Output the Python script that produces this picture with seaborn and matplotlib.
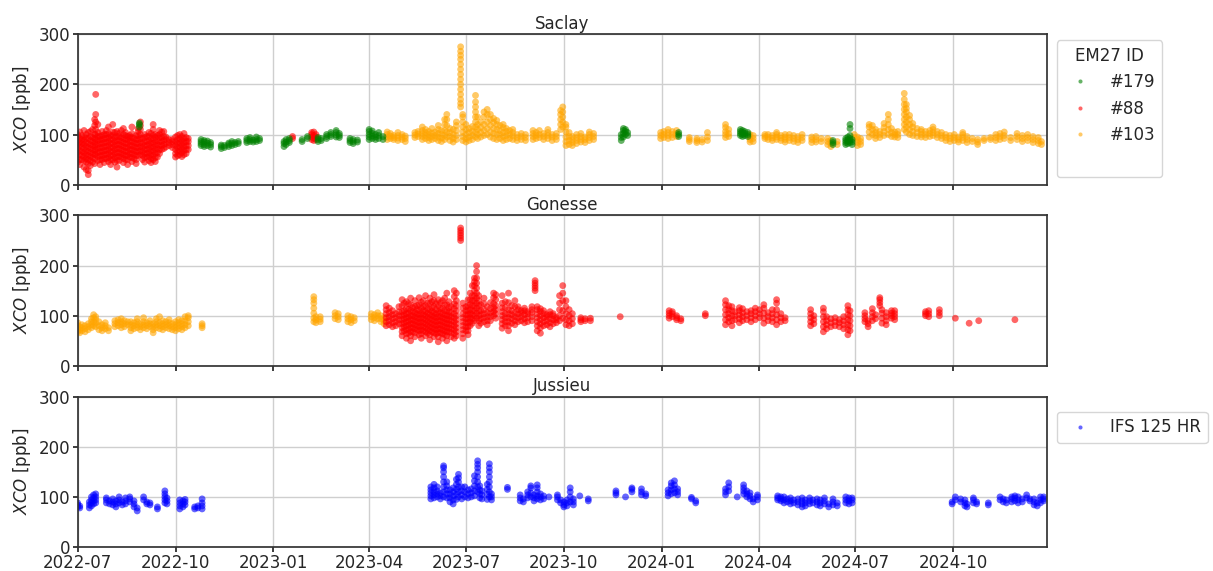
import pandas as pd
import seaborn as sns
import matplotlib.pyplot as plt
import matplotlib.dates as mdates
from matplotlib.lines import Line2D


saclay_88 = [
    ('2022-07-01', [45, 55, 65, 72, 80, 88, 95, 100]), ('2022-07-03', [40, 50, 60, 68, 78, 85, 92, 105]),
    ('2022-07-05', [50, 58, 66, 75, 82, 90, 98]), ('2022-07-07', [35, 48, 56, 64, 72, 80, 88, 95, 108]),
    ('2022-07-09', [30, 45, 52, 60, 68, 76, 84, 92, 100]), ('2022-07-11', [20, 28, 42, 50, 58, 66, 74, 82, 92, 104]),
    ('2022-07-13', [38, 48, 56, 64, 72, 80, 88, 96, 106]), ('2022-07-15', [45, 54, 62, 70, 78, 86, 94, 110]),
    ('2022-07-17', [42, 52, 60, 68, 76, 84, 92, 100, 118, 130]), ('2022-07-18', [60, 70, 80, 90, 100, 110, 125, 140, 180]),
    ('2022-07-20', [48, 56, 64, 72, 80, 88, 96, 104, 120]), ('2022-07-22', [40, 50, 58, 66, 74, 82, 90, 96]),
    ('2022-07-24', [50, 58, 66, 74, 82, 90, 98, 106]), ('2022-07-26', [44, 52, 60, 68, 76, 84, 92, 100]),
    ('2022-07-28', [52, 60, 68, 76, 84, 92, 100, 108]), ('2022-07-30', [46, 54, 62, 70, 78, 86, 94, 102, 115]),
    ('2022-08-01', [40, 50, 58, 66, 74, 82, 90, 98]), ('2022-08-03', [50, 58, 66, 74, 82, 90, 98, 105, 120]),
    ('2022-08-05', [45, 54, 62, 70, 78, 86, 94, 104]), ('2022-08-07', [35, 48, 56, 64, 72, 80, 88, 96, 106]),
    ('2022-08-09', [48, 56, 64, 72, 80, 88, 96, 102]), ('2022-08-11', [55, 62, 70, 78, 86, 94, 108]),
    ('2022-08-13', [44, 52, 60, 68, 76, 84, 92, 100, 112]), ('2022-08-15', [50, 58, 66, 74, 82, 90, 98, 104]),
    ('2022-08-17', [40, 50, 58, 66, 74, 82, 90, 96]), ('2022-08-19', [55, 62, 70, 78, 86, 94, 98]),
    ('2022-08-21', [46, 54, 62, 70, 78, 86, 94, 102, 115]), ('2022-08-23', [52, 60, 68, 76, 84, 92]),
    ('2022-08-25', [42, 50, 58, 66, 74, 82, 90, 98]), ('2022-08-27', [58, 66, 74, 82, 90, 98, 106, 112]),
    ('2022-08-29', [60, 68, 76, 84, 92, 100, 110, 118, 125]), ('2022-08-31', [50, 58, 66, 74, 82, 92]),
    ('2022-09-02', [45, 54, 62, 70, 78, 86, 94, 100]), ('2022-09-04', [55, 62, 70, 78, 86, 96]),
    ('2022-09-06', [48, 56, 64, 72, 80, 88, 96, 104]), ('2022-09-08', [44, 52, 60, 68, 76, 84, 92, 102]),
    ('2022-09-10', [50, 58, 66, 74, 82, 90, 98, 110, 120]), ('2022-09-12', [46, 54, 62, 70, 78, 86, 94, 100]),
    ('2022-09-14', [55, 64, 72, 80, 88, 98]), ('2022-09-16', [62, 70, 78, 86, 94, 100, 108]),
    ('2022-09-18', [70, 78, 86, 94, 105]), ('2022-09-20', [72, 80, 88, 96, 106]),
    ('2022-09-22', [75, 82, 90, 95]), ('2022-09-25', [78, 84, 90]), ('2022-09-28', [74, 80, 86, 90]),
    ('2022-10-01', [55, 62, 70, 78, 86, 95]), ('2022-10-03', [58, 66, 74, 82, 90, 98]),
    ('2022-10-05', [60, 68, 76, 84, 92, 100]), ('2022-10-07', [56, 64, 72, 80, 88, 96]),
    ('2022-10-09', [60, 68, 76, 84, 92, 102]), ('2022-10-11', [62, 70, 78, 86, 94]),
    ('2022-10-13', [70, 78, 86, 92]),
    ('2023-01-19', [92, 96]), ('2023-02-06', [90, 95, 100, 104]),
    ('2023-02-08', [88, 93, 98, 105]), ('2023-02-10', [90, 95, 100]),
]

saclay_179 = [
    ('2022-08-28', [115, 120, 123]),
    ('2022-10-25', [78, 82, 86, 90]), ('2022-10-28', [76, 80, 85, 88]), ('2022-10-31', [78, 83, 87]),
    ('2022-11-03', [75, 80, 84]), ('2022-11-13', [72, 76, 79]), ('2022-11-16', [74, 78]),
    ('2022-11-20', [76, 80, 83]), ('2022-11-23', [78, 82, 86]), ('2022-11-26', [80, 84]),
    ('2022-11-29', [82, 86]), ('2022-12-07', [84, 88, 92]), ('2022-12-10', [86, 90, 94]),
    ('2022-12-13', [85, 89]), ('2022-12-16', [86, 90, 95]), ('2022-12-19', [88, 92]),
    ('2023-01-11', [76, 82, 86]), ('2023-01-13', [80, 85, 90]), ('2023-01-16', [84, 88, 92]),
    ('2023-01-28', [86, 90]), ('2023-02-02', [92, 96]), ('2023-02-12', [86, 90, 94]),
    ('2023-02-15', [88, 92]), ('2023-02-20', [92, 96, 100]), ('2023-02-24', [96, 100, 104]),
    ('2023-03-01', [95, 99, 104, 108]), ('2023-03-04', [94, 98, 102]),
    ('2023-03-14', [84, 88, 92]), ('2023-03-17', [82, 86, 90]), ('2023-03-21', [85, 89]),
    ('2023-04-01', [90, 95, 100, 106, 110]), ('2023-04-04', [92, 97, 102, 107]),
    ('2023-04-07', [90, 95, 100]), ('2023-04-10', [92, 98, 104]), ('2023-04-14', [90, 96]),
    ('2023-11-24', [88, 94, 100]), ('2023-11-26', [95, 102, 108, 112]),
    ('2023-11-28', [100, 106, 110]), ('2023-11-30', [98, 104]),
    ('2024-01-17', [96, 100, 104]),
    ('2024-03-15', [98, 102, 106, 110]), ('2024-03-17', [96, 100, 104, 108]),
    ('2024-03-19', [98, 102, 106]), ('2024-03-22', [96, 100, 104]),
    ('2024-06-10', [80, 84, 88]),
    ('2024-06-22', [80, 84, 88, 92]), ('2024-06-24', [82, 86, 90, 95]),
    ('2024-06-26', [84, 88, 92, 98, 112, 120]), ('2024-06-28', [80, 85, 90]),
]

saclay_103 = [
    ('2023-04-18', [90, 95, 100, 105]), ('2023-04-21', [92, 97, 102]), ('2023-04-24', [90, 94, 98]),
    ('2023-04-28', [88, 93, 98, 104]), ('2023-05-02', [90, 95, 100]), ('2023-05-05', [86, 92, 97]),
    ('2023-05-14', [94, 99, 104]), ('2023-05-17', [96, 101, 106]),
    ('2023-05-21', [90, 96, 102, 108, 115]), ('2023-05-24', [92, 98, 104, 110]),
    ('2023-05-27', [88, 94, 100, 106]), ('2023-05-30', [90, 96, 103, 112]),
    ('2023-06-02', [92, 98, 105]), ('2023-06-05', [88, 95, 102, 110, 118]),
    ('2023-06-08', [86, 93, 100, 108]), ('2023-06-11', [90, 98, 108, 120, 130]),
    ('2023-06-13', [95, 105, 118, 130, 140]), ('2023-06-16', [88, 96, 104, 112]),
    ('2023-06-19', [85, 92, 100, 110]), ('2023-06-22', [90, 98, 108, 118, 125]),
    ('2023-06-26', [155, 162, 170, 180, 190, 200, 210, 220, 230, 240, 250, 258, 266, 275]),
    ('2023-06-28', [88, 96, 105, 115, 125, 135, 140]), ('2023-07-01', [85, 92, 100, 110, 120]),
    ('2023-07-04', [88, 95, 104, 112]), ('2023-07-07', [90, 98, 106, 116]),
    ('2023-07-10', [95, 105, 115, 125, 135, 145, 155, 165, 178]), ('2023-07-12', [92, 100, 110, 120, 135]),
    ('2023-07-15', [95, 104, 114, 125]), ('2023-07-18', [98, 108, 120, 135, 145]),
    ('2023-07-21', [100, 112, 125, 140, 150]), ('2023-07-24', [95, 105, 118, 130, 140]),
    ('2023-07-27', [92, 102, 112, 124, 132]), ('2023-07-30', [90, 100, 110, 120, 128]),
    ('2023-08-02', [92, 100, 108, 118]), ('2023-08-05', [88, 96, 104, 114, 120]),
    ('2023-08-08', [90, 98, 106, 112]), ('2023-08-11', [92, 100, 108]),
    ('2023-08-14', [90, 97, 104, 110]), ('2023-08-18', [88, 94, 100]),
    ('2023-08-22', [90, 96, 102]), ('2023-08-26', [88, 94, 100]),
    ('2023-09-02', [90, 96, 102, 108]), ('2023-09-05', [92, 98, 104]),
    ('2023-09-08', [94, 100, 108]), ('2023-09-12', [90, 96, 102]),
    ('2023-09-16', [92, 98, 104, 110]), ('2023-09-20', [88, 95, 100]),
    ('2023-09-24', [90, 96, 102]), ('2023-09-28', [110, 120, 130, 140, 148]),
    ('2023-09-30', [115, 125, 135, 145, 155]), ('2023-10-03', [78, 86, 95, 105, 115, 120]),
    ('2023-10-06', [80, 88, 96, 104]), ('2023-10-09', [78, 84, 90, 96]),
    ('2023-10-13', [82, 88, 94, 100]), ('2023-10-17', [85, 90, 96, 102]),
    ('2023-10-21', [84, 90, 95]), ('2023-10-25', [88, 94, 100, 105]), ('2023-10-29', [90, 96, 102]),
    ('2023-12-31', [92, 98, 104]), ('2024-01-03', [94, 100, 106]),
    ('2024-01-07', [92, 98, 104, 110]), ('2024-01-11', [94, 100, 106]),
    ('2024-01-15', [96, 102, 108]), ('2024-01-27', [86, 90, 94]),
    ('2024-02-03', [84, 88, 92]), ('2024-02-08', [85, 90]), ('2024-02-13', [88, 95, 104]),
    ('2024-03-01', [94, 100, 106, 114, 120]), ('2024-03-04', [96, 102, 110]),
    ('2024-03-24', [85, 90, 95, 100]), ('2024-03-27', [86, 92, 98]),
    ('2024-04-07', [92, 96, 100]), ('2024-04-10', [90, 95, 100]), ('2024-04-14', [88, 93, 98]),
    ('2024-04-18', [90, 95, 100, 104]), ('2024-04-22', [88, 93, 98]),
    ('2024-04-26', [85, 90, 95, 100]), ('2024-04-30', [88, 94, 100]),
    ('2024-05-04', [86, 92, 98]), ('2024-05-08', [84, 90, 96]), ('2024-05-12', [88, 94, 100]),
    ('2024-05-21', [84, 90, 95]), ('2024-05-25', [85, 90, 96]), ('2024-05-30', [86, 92]),
    ('2024-06-05', [80, 86, 92]), ('2024-06-08', [76, 82, 88]), ('2024-06-14', [80, 86]),
    ('2024-06-30', [94, 100]), ('2024-07-03', [78, 84, 90, 95]), ('2024-07-06', [80, 86, 92]),
    ('2024-07-14', [95, 105, 115, 120]), ('2024-07-17', [100, 110, 118]),
    ('2024-07-20', [92, 98, 104, 110]), ('2024-07-24', [94, 100, 106]),
    ('2024-07-28', [98, 106, 114, 122]), ('2024-08-01', [100, 110, 120, 130, 140]),
    ('2024-08-04', [96, 104, 112]), ('2024-08-07', [95, 100, 105]), ('2024-08-10', [94, 100, 106]),
    ('2024-08-16', [110, 120, 130, 140, 150, 160, 170, 182]), ('2024-08-18', [105, 115, 125, 135, 145, 152, 160]),
    ('2024-08-21', [100, 110, 120, 130, 138]), ('2024-08-24', [98, 106, 115, 122]),
    ('2024-08-28', [96, 104, 112]), ('2024-09-01', [95, 100, 106, 110]),
    ('2024-09-05', [94, 100, 106]), ('2024-09-09', [96, 102, 108]),
    ('2024-09-12', [98, 104, 110, 115]), ('2024-09-16', [94, 100, 106]),
    ('2024-09-20', [92, 98, 104]), ('2024-09-24', [88, 94, 100]), ('2024-09-28', [86, 92, 98]),
    ('2024-10-02', [88, 94, 100]), ('2024-10-06', [85, 90, 95]), ('2024-10-10', [88, 94, 100, 104]),
    ('2024-10-14', [84, 90, 96]), ('2024-10-19', [86, 92]), ('2024-10-24', [80, 85, 90]),
    ('2024-10-30', [88, 92]), ('2024-11-05', [90, 94]), ('2024-11-10', [88, 94, 100]),
    ('2024-11-14', [90, 96, 102]), ('2024-11-18', [92, 98, 105]), ('2024-11-24', [88, 94]),
    ('2024-11-30', [90, 96, 102]), ('2024-12-05', [86, 92, 98]), ('2024-12-10', [88, 94, 100]),
    ('2024-12-15', [84, 90, 96]), ('2024-12-20', [82, 88, 94]), ('2024-12-23', [80, 86]),
]

gonesse_103 = [
    ('2022-07-01', [68, 74, 80, 86]), ('2022-07-03', [66, 72, 78]), ('2022-07-05', [70, 76, 82]),
    ('2022-07-08', [68, 74, 80]), ('2022-07-11', [72, 78, 84]), ('2022-07-14', [76, 82, 88, 94]),
    ('2022-07-16', [80, 88, 96, 102]), ('2022-07-18', [78, 85, 92, 98]), ('2022-07-21', [72, 80, 88]),
    ('2022-07-24', [70, 76, 82]), ('2022-07-27', [74, 80, 86]), ('2022-07-30', [70, 76]),
    ('2022-08-05', [78, 84, 90]), ('2022-08-08', [80, 86, 92]), ('2022-08-11', [76, 82, 88, 94]),
    ('2022-08-14', [78, 84, 90]), ('2022-08-17', [82, 88]), ('2022-08-20', [70, 76, 82, 88]),
    ('2022-08-23', [74, 80, 86]), ('2022-08-26', [76, 82, 88, 94]), ('2022-08-29', [72, 78, 84]),
    ('2022-09-01', [76, 82, 88, 96]), ('2022-09-04', [74, 80, 86]), ('2022-09-07', [78, 84, 90]),
    ('2022-09-10', [66, 72, 78, 84]), ('2022-09-13', [76, 82, 88, 94]),
    ('2022-09-16', [74, 80, 86, 98]), ('2022-09-19', [72, 78, 84, 90]), ('2022-09-22', [76, 82, 88]),
    ('2022-09-25', [74, 80, 86, 92]), ('2022-09-28', [72, 78, 84]), ('2022-10-01', [70, 76, 82, 88]),
    ('2022-10-04', [74, 80, 86, 92]), ('2022-10-07', [72, 78, 84, 90]),
    ('2022-10-10', [76, 82, 90, 98]), ('2022-10-13', [80, 88, 96, 100]), ('2022-10-26', [76, 80, 84]),
    ('2023-02-08', [88, 95, 105, 115, 125, 132, 138]), ('2023-02-10', [86, 92, 98]),
    ('2023-02-14', [88, 93, 98]), ('2023-02-28', [94, 100, 106]), ('2023-03-03', [92, 98, 104]),
    ('2023-03-12', [88, 94, 100]), ('2023-03-15', [86, 92, 98]), ('2023-03-18', [90, 96]),
    ('2023-04-03', [92, 98, 104]), ('2023-04-06', [90, 96, 102]), ('2023-04-09', [94, 100, 106]),
    ('2023-04-12', [88, 94, 100]), ('2023-04-15', [84, 90, 96]),
]

gonesse_88 = [
    ('2023-04-17', [80, 88, 96, 104, 112, 120]), ('2023-04-20', [82, 90, 98, 106, 115]),
    ('2023-04-23', [78, 86, 94, 102, 110]), ('2023-04-26', [80, 88, 96, 104]),
    ('2023-04-29', [84, 92, 100, 108, 118]), ('2023-05-02', [60, 68, 76, 84, 92, 100, 108, 120, 132]),
    ('2023-05-04', [70, 78, 86, 94, 102, 110, 125]), ('2023-05-06', [55, 64, 72, 80, 88, 96, 104, 114, 128]),
    ('2023-05-08', [65, 73, 81, 89, 97, 105, 113, 124]), ('2023-05-10', [50, 60, 68, 76, 84, 92, 100, 110, 122, 135]),
    ('2023-05-12', [68, 76, 84, 92, 100, 108, 116]), ('2023-05-14', [58, 66, 74, 82, 90, 98, 106, 118, 130]),
    ('2023-05-16', [72, 80, 88, 96, 104, 112, 120]), ('2023-05-18', [62, 70, 78, 86, 94, 102, 110, 122, 136]),
    ('2023-05-20', [55, 64, 72, 80, 88, 96, 104, 115, 127]), ('2023-05-22', [70, 78, 86, 94, 102, 110, 118, 130]),
    ('2023-05-24', [60, 68, 76, 84, 92, 100, 108, 120, 140]), ('2023-05-26', [65, 73, 81, 89, 97, 105, 113, 125]),
    ('2023-05-28', [52, 62, 70, 78, 86, 94, 102, 112, 124, 135]), ('2023-05-30', [68, 76, 84, 92, 100, 108, 116, 128]),
    ('2023-06-01', [58, 66, 74, 82, 90, 98, 106, 118, 130, 142]), ('2023-06-03', [64, 72, 80, 88, 96, 104, 112, 124]),
    ('2023-06-05', [48, 58, 66, 74, 82, 90, 98, 108, 120, 132]), ('2023-06-07', [66, 74, 82, 90, 98, 106, 114, 126]),
    ('2023-06-09', [55, 64, 72, 80, 88, 96, 104, 115, 130]), ('2023-06-11', [62, 70, 78, 86, 94, 102, 110, 122, 135]),
    ('2023-06-13', [50, 60, 68, 76, 84, 92, 100, 110, 122, 145]), ('2023-06-15', [68, 76, 84, 92, 100, 108, 116, 128]),
    ('2023-06-17', [58, 66, 74, 82, 90, 98, 106, 118]), ('2023-06-20', [55, 64, 72, 80, 88, 96, 104, 114, 124, 138, 150]),
    ('2023-06-22', [60, 68, 76, 84, 92, 100, 110, 120, 130, 145]), ('2023-06-26', [250, 255, 260, 265, 270, 275]),
    ('2023-06-28', [55, 64, 72, 80, 88, 96, 104, 115, 125]), ('2023-07-01', [70, 78, 86, 94, 102, 110, 118]),
    ('2023-07-03', [62, 70, 78, 86, 94, 102, 110, 120, 132]), ('2023-07-05', [80, 88, 96, 104, 112, 122, 132, 145]),
    ('2023-07-07', [85, 94, 102, 110, 120, 130, 140, 160]), ('2023-07-09', [90, 100, 110, 120, 130, 140, 150, 160, 168, 175]),
    ('2023-07-11', [95, 105, 115, 125, 135, 145, 155, 165, 175, 188, 200]), ('2023-07-13', [80, 90, 100, 110, 120, 130, 140]),
    ('2023-07-15', [85, 94, 102, 110, 122]), ('2023-07-18', [88, 96, 104, 112, 124, 135]),
    ('2023-07-21', [82, 90, 98, 106, 118]), ('2023-07-24', [90, 98, 106, 114, 126]),
    ('2023-07-27', [100, 108, 116, 124, 136, 145]), ('2023-07-29', [95, 104, 112, 120, 132, 142]),
    ('2023-08-04', [75, 84, 92, 100, 108, 116, 125, 140]), ('2023-08-07', [80, 88, 96, 104, 116, 128]),
    ('2023-08-10', [70, 80, 88, 96, 104, 112, 126, 145]), ('2023-08-13', [85, 94, 102, 110, 120]),
    ('2023-08-16', [82, 90, 98, 106, 118, 130]), ('2023-08-19', [88, 96, 104, 112, 118]),
    ('2023-08-22', [90, 98, 106, 110]), ('2023-08-25', [86, 94, 102, 110, 115]), ('2023-08-28', [88, 96, 104, 108]),
    ('2023-09-01', [90, 98, 106, 112, 118]), ('2023-09-04', [150, 155, 160, 165, 170]),
    ('2023-09-06', [70, 80, 88, 96, 104, 112, 118]), ('2023-09-09', [65, 76, 84, 92, 100, 108, 114]),
    ('2023-09-12', [80, 88, 96, 104, 110]), ('2023-09-15', [82, 90, 98, 102]),
    ('2023-09-18', [78, 86, 94, 102, 108]), ('2023-09-21', [84, 92, 100, 104]), ('2023-09-24', [86, 92, 96]),
    ('2023-09-27', [90, 100, 112, 125, 140]), ('2023-09-30', [95, 110, 130, 145, 160]),
    ('2023-10-03', [82, 92, 104, 118, 130]), ('2023-10-06', [80, 90, 100, 112]),
    ('2023-10-09', [84, 94, 104]), ('2023-10-17', [88, 92, 96]), ('2023-10-21', [90, 94]),
    ('2023-10-26', [90, 95]), ('2023-11-23', [98]),
    ('2024-01-08', [95, 100, 105, 110]), ('2024-01-11', [98, 104, 108]),
    ('2024-01-15', [92, 96, 100]), ('2024-01-19', [90, 94]), ('2024-02-11', [100, 104]),
    ('2024-03-01', [82, 92, 102, 112, 122, 130]), ('2024-03-04', [88, 96, 104, 112, 120]),
    ('2024-03-07', [80, 90, 100, 110, 118]), ('2024-03-10', [92, 100, 108]),
    ('2024-03-14', [86, 94, 102, 110, 116]), ('2024-03-17', [90, 98, 106, 114]),
    ('2024-03-21', [92, 100, 108]), ('2024-03-25', [88, 96, 104, 110]),
    ('2024-03-29', [92, 100, 108, 115]), ('2024-04-02', [96, 104, 112]),
    ('2024-04-06', [85, 95, 105, 115, 122]), ('2024-04-10', [90, 98, 106]),
    ('2024-04-14', [88, 96, 104, 112]), ('2024-04-18', [82, 92, 102, 112, 125, 132]),
    ('2024-04-22', [88, 96, 104]), ('2024-04-26', [90, 96]),
    ('2024-05-20', [80, 88, 96, 104, 112]), ('2024-05-23', [84, 92, 100]),
    ('2024-06-01', [68, 78, 88, 98, 108, 115]), ('2024-06-04', [74, 82, 90, 98]),
    ('2024-06-08', [78, 86, 94]), ('2024-06-12', [80, 88, 96]), ('2024-06-16', [78, 86, 92]),
    ('2024-06-20', [74, 82, 90, 98]), ('2024-06-24', [62, 72, 82, 92, 102, 112, 120]),
    ('2024-06-26', [70, 80, 90, 100, 110]), ('2024-07-10', [88, 94, 100, 106]),
    ('2024-07-13', [78, 84, 90]), ('2024-07-17', [90, 98, 106, 114]), ('2024-07-20', [94, 102]),
    ('2024-07-24', [120, 126, 132, 136]), ('2024-07-26', [85, 95, 105, 112]),
    ('2024-07-30', [82, 90, 98, 106]), ('2024-08-04', [95, 100, 105, 110]),
    ('2024-08-07', [92, 98, 104, 110]), ('2024-09-05', [100, 104, 108]),
    ('2024-09-08', [98, 104, 110]), ('2024-09-18', [100, 106, 112]),
    ('2024-10-03', [95]), ('2024-10-16', [85]), ('2024-10-25', [90]), ('2024-11-28', [92]),
]

jussieu_ifs = [
    ('2022-07-01', [80, 84, 88]), ('2022-07-03', [78, 82]), ('2022-07-12', [78, 84, 90]),
    ('2022-07-14', [82, 88, 94, 100]), ('2022-07-16', [86, 92, 98, 104]),
    ('2022-07-18', [88, 94, 100, 106]), ('2022-07-28', [88, 94, 98]), ('2022-07-31', [86, 92]),
    ('2022-08-03', [84, 90, 96]), ('2022-08-06', [80, 86, 92]), ('2022-08-09', [88, 94, 100]),
    ('2022-08-12', [84, 90]), ('2022-08-15', [86, 92, 98]), ('2022-08-19', [90, 96, 100]),
    ('2022-08-23', [80, 86, 92]), ('2022-08-26', [72, 78]), ('2022-09-01', [94, 100]),
    ('2022-09-04', [86, 90]), ('2022-09-07', [84, 88]), ('2022-09-14', [76, 80]),
    ('2022-09-21', [88, 94, 100, 106, 112]), ('2022-09-23', [86, 92, 98]),
    ('2022-10-05', [76, 82, 88, 94]), ('2022-10-08', [80, 86, 92]), ('2022-10-10', [84, 90, 95]),
    ('2022-10-19', [76, 80]), ('2022-10-22', [78, 82]), ('2022-10-26', [76, 82, 88, 96]),
    ('2023-05-29', [96, 102, 108, 114, 120]), ('2023-06-01', [98, 104, 110, 118, 125]),
    ('2023-06-04', [100, 106, 112, 120]), ('2023-06-07', [96, 102, 108]),
    ('2023-06-10', [100, 110, 120, 130, 140, 150, 158, 162]), ('2023-06-13', [98, 106, 114, 122, 130]),
    ('2023-06-16', [90, 98, 106, 114]), ('2023-06-19', [86, 94, 102, 110, 118]),
    ('2023-06-22', [95, 105, 115, 125, 135]), ('2023-06-24', [100, 110, 120, 130, 138, 145]),
    ('2023-06-27', [96, 104, 112, 120]), ('2023-06-30', [100, 110, 120]),
    ('2023-07-03', [98, 106, 114]), ('2023-07-06', [100, 108, 116]),
    ('2023-07-09', [102, 112, 122, 132, 142]), ('2023-07-12', [110, 120, 130, 140, 150, 158, 165, 172]),
    ('2023-07-14', [98, 106, 114, 122]), ('2023-07-16', [96, 104, 112]),
    ('2023-07-21', [95, 105, 115, 125]), ('2023-07-23', [100, 110, 120, 130, 140, 150, 158, 166]),
    ('2023-07-25', [94, 100, 106]), ('2023-08-09', [115, 119]), ('2023-08-21', [92, 98, 104]),
    ('2023-08-24', [90, 96]), ('2023-08-28', [98, 104, 110]), ('2023-08-31', [100, 108, 118, 122]),
    ('2023-09-03', [92, 98, 104]), ('2023-09-06', [96, 102, 110, 118, 124]),
    ('2023-09-09', [94, 100, 106]), ('2023-09-12', [96, 102]), ('2023-09-17', [100]),
    ('2023-09-25', [94, 100, 104]), ('2023-09-28', [88, 94]), ('2023-10-01', [80, 84, 90]),
    ('2023-10-04', [82, 88, 94]), ('2023-10-07', [90, 100, 110, 118]), ('2023-10-10', [84, 90, 96]),
    ('2023-10-16', [102]), ('2023-10-24', [92, 96]), ('2023-11-19', [104, 108, 112]),
    ('2023-11-28', [100]), ('2023-12-04', [110, 115, 118]), ('2023-12-13', [104, 110, 116]),
    ('2023-12-17', [102, 106]), ('2024-01-07', [102, 108, 114]), ('2024-01-10', [106, 114, 122, 128]),
    ('2024-01-13', [108, 116, 124, 132]), ('2024-01-16', [104, 110, 116]),
    ('2024-01-29', [96, 99]), ('2024-02-02', [88, 92]), ('2024-03-01', [104, 110, 116]),
    ('2024-03-04', [112, 120, 128]), ('2024-03-12', [100]), ('2024-03-18', [106, 112, 118, 124]),
    ('2024-03-21', [100, 106, 112]), ('2024-03-24', [96, 102, 108]), ('2024-03-27', [90, 96]),
    ('2024-03-31', [94, 100, 104]), ('2024-04-19', [94, 98, 102]), ('2024-04-22', [92, 96, 100]),
    ('2024-04-25', [88, 94, 100]), ('2024-04-28', [90, 96]), ('2024-05-01', [86, 92, 98]),
    ('2024-05-04', [88, 94]), ('2024-05-08', [84, 90, 96]), ('2024-05-12', [80, 86, 92, 98]),
    ('2024-05-15', [82, 88, 94]), ('2024-05-19', [86, 92, 98]), ('2024-05-22', [88, 94]),
    ('2024-05-26', [84, 90, 96]), ('2024-05-29', [82, 88, 94]), ('2024-06-02', [86, 92, 98]),
    ('2024-06-06', [80, 86]), ('2024-06-10', [84, 90, 96]), ('2024-06-14', [82, 88]),
    ('2024-06-22', [88, 94, 100]), ('2024-06-25', [86, 92, 98]), ('2024-06-28', [88, 94, 98]),
    ('2024-09-30', [86, 90]), ('2024-10-03', [94, 100]), ('2024-10-08', [90, 96]),
    ('2024-10-12', [82, 88, 94]), ('2024-10-14', [80, 86]), ('2024-10-20', [88, 94, 98]),
    ('2024-10-23', [86, 90]), ('2024-11-03', [84, 88]), ('2024-11-14', [94, 100]),
    ('2024-11-17', [90, 96]), ('2024-11-20', [88, 94]), ('2024-11-25', [90, 96, 100]),
    ('2024-11-28', [92, 98, 102]), ('2024-12-01', [88, 94, 100]), ('2024-12-05', [90, 96]),
    ('2024-12-09', [98, 104]), ('2024-12-12', [92, 96]), ('2024-12-16', [84, 90, 96]),
    ('2024-12-19', [82, 88]), ('2024-12-22', [88, 94, 100]), ('2024-12-25', [92, 96, 100]),
]

em27_colors = {'#179': 'green', '#88': 'red', '#103': 'orange'}
em27_order = ['#179', '#88', '#103']


def to_frame(series, label):
    rows = [(pd.Timestamp(d), v, label) for d, vals in series for v in vals]
    return pd.DataFrame(rows, columns=['date', 'xco', 'instrument'])


saclay = pd.concat([to_frame(saclay_88, '#88'), to_frame(saclay_103, '#103'),
                    to_frame(saclay_179, '#179')], ignore_index=True)
gonesse = pd.concat([to_frame(gonesse_103, '#103'), to_frame(gonesse_88, '#88')], ignore_index=True)
jussieu = to_frame(jussieu_ifs, 'IFS 125 HR')

sns.set_theme(style='ticks', rc={'axes.grid': True, 'grid.color': '#cfcfcf',
                                 'axes.edgecolor': '#333333', 'xtick.labelsize': 12,
                                 'ytick.labelsize': 12, 'axes.labelsize': 12,
                                 'axes.titlesize': 12, 'legend.fontsize': 12,
                                 'xtick.major.size': 3.5, 'ytick.major.size': 3.5,
                                 'xtick.major.pad': 1.5, 'ytick.major.pad': 2})
plt.rcParams['font.family'] = ['DejaVu Sans']

fig, axes = plt.subplots(3, 1, figsize=(12.13, 5.71), sharex=True)
fig.subplots_adjust(left=0.064, right=0.863, top=0.940, bottom=0.042, hspace=0.205)

pt = dict(s=24, alpha=0.6, linewidth=0)
sns.scatterplot(data=saclay, x='date', y='xco', hue='instrument', hue_order=em27_order,
                palette=em27_colors, ax=axes[0], **pt)
sns.scatterplot(data=gonesse, x='date', y='xco', hue='instrument', hue_order=em27_order,
                palette=em27_colors, ax=axes[1], legend=False, **pt)
sns.scatterplot(data=jussieu, x='date', y='xco', hue='instrument',
                palette={'IFS 125 HR': 'blue'}, ax=axes[2], **pt)

for ax, site in zip(axes, ['Saclay', 'Gonesse', 'Jussieu']):
    ax.set_title(site, fontsize=12, pad=4)
    ax.set_ylim(0, 300)
    ax.set_yticks([0, 100, 200, 300])
    ax.set_ylabel(r'$XCO$ [ppb]')
    ax.set_xlabel('')
    ax.grid(True, color='#cfcfcf', linewidth=1)

axes[2].set_xlim(pd.Timestamp('2022-07-01'), pd.Timestamp('2024-12-28'))
axes[2].xaxis.set_major_locator(mdates.MonthLocator(bymonth=[1, 4, 7, 10]))
axes[2].xaxis.set_major_formatter(mdates.DateFormatter('%Y-%m'))

handles, labels = axes[0].get_legend_handles_labels()
handles.append(Line2D([], [], linestyle='none'))
labels.append(' ')
axes[0].legend(handles, labels, title='EM27 ID', title_fontsize=12, loc='upper left',
               bbox_to_anchor=(1.01, 0.96), borderaxespad=0, markerscale=0.6)

h2, l2 = axes[2].get_legend_handles_labels()
axes[2].legend(h2, l2, loc='upper left', bbox_to_anchor=(1.01, 0.90), borderaxespad=0,
               markerscale=0.6)

fig.savefig('out.png', dpi=100)
